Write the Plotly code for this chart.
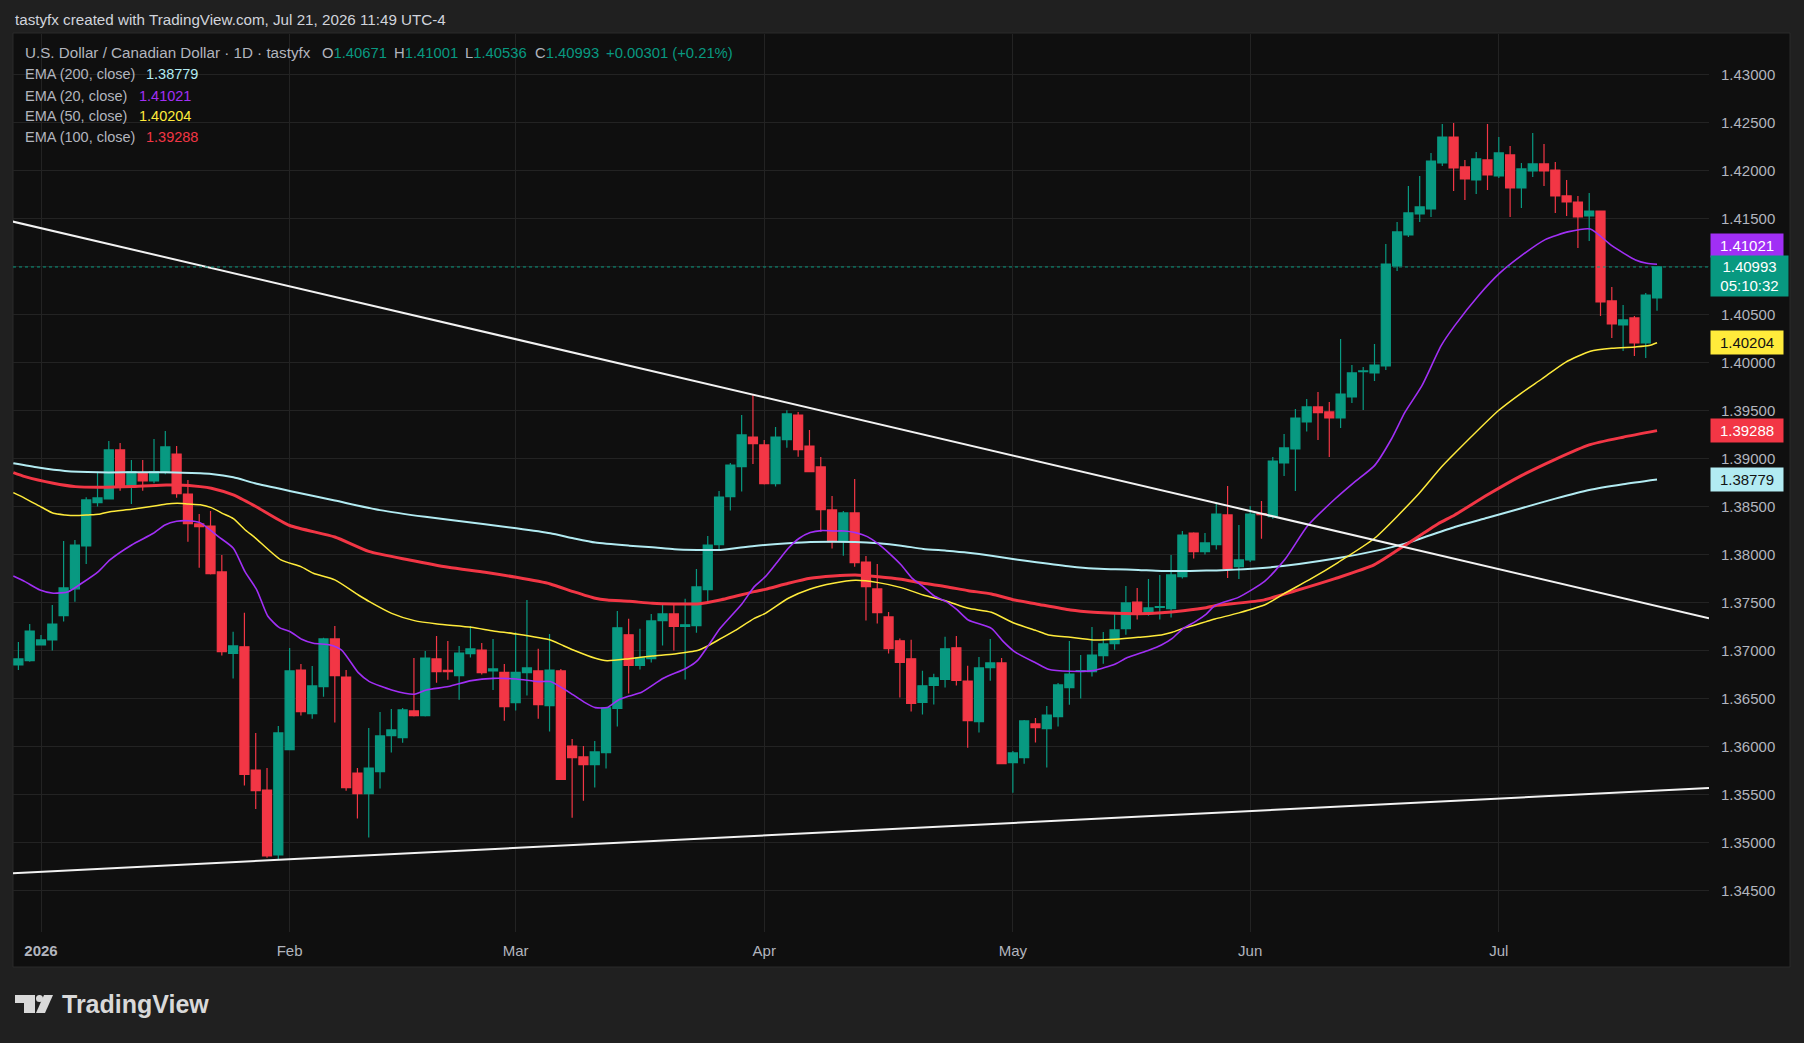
import plotly.graph_objects as go
import pandas as pd

# ---------------- data ----------------
dates = pd.bdate_range("2025-12-30", "2026-07-21")

open_ = [1.36847, 1.36892, 1.37056, 1.37108, 1.37361, 1.37640, 1.38087, 1.38538, 1.38576, 1.39087,
         1.38701, 1.38844, 1.38764, 1.38851, 1.39045, 1.38628, 1.38316, 1.38295, 1.37816, 1.36967,
         1.37036, 1.35753, 1.35545, 1.34868, 1.35965, 1.36795, 1.36340, 1.36622, 1.37118, 1.36722,
         1.35722, 1.35507, 1.35737, 1.36112, 1.36091, 1.36368, 1.36320, 1.36910, 1.36790, 1.36736,
         1.36965, 1.37003, 1.36785, 1.36771, 1.36455, 1.36767, 1.36785, 1.36424, 1.36785, 1.36003,
         1.35889, 1.35809, 1.35934, 1.36394, 1.37161, 1.36842, 1.36913, 1.37310, 1.37379, 1.37248,
         1.37257, 1.37632, 1.38100, 1.38601, 1.38913, 1.39222, 1.39139, 1.38736, 1.39195, 1.39451,
         1.39128, 1.38910, 1.38462, 1.38132, 1.38431, 1.37920, 1.37639, 1.37348, 1.37099, 1.36911,
         1.36457, 1.36634, 1.36696, 1.37026, 1.36679, 1.36257, 1.36820, 1.36868, 1.35830, 1.35882,
         1.36233, 1.36184, 1.36309, 1.36611, 1.36781, 1.36778, 1.36944, 1.37070, 1.37226, 1.37503,
         1.37382, 1.37448, 1.37434, 1.37767, 1.38222, 1.38028, 1.38101, 1.38410, 1.37872, 1.37941,
         1.38424, 1.38392, 1.38951, 1.39097, 1.39378, 1.39535, 1.39483, 1.39420, 1.39639, 1.39903,
         1.39889, 1.39962, 1.41003, 1.41326, 1.41545, 1.41597, 1.42076, 1.42347, 1.42035, 1.41900,
         1.42108, 1.41941, 1.42160, 1.41816, 1.41993, 1.42066, 1.42003, 1.41733, 1.41670, 1.41524,
         1.41576, 1.40639, 1.40389, 1.40462, 1.40201, 1.40671]
high = [1.37087, 1.37274, 1.37160, 1.37472, 1.38139, 1.38150, 1.38594, 1.38861, 1.39180, 1.39160,
        1.38983, 1.38983, 1.39201, 1.39285, 1.39128, 1.38774, 1.38420, 1.38451, 1.37993, 1.37192,
        1.37390, 1.36139, 1.35774, 1.36212, 1.37024, 1.36858, 1.36837, 1.37130, 1.37254, 1.36795,
        1.35774, 1.36191, 1.36358, 1.36389, 1.36400, 1.36920, 1.36993, 1.37150, 1.37097, 1.37045,
        1.37254, 1.37076, 1.37118, 1.36858, 1.37188, 1.37525, 1.37015, 1.37170, 1.36806, 1.36076,
        1.36003, 1.36056, 1.36410, 1.37410, 1.37328, 1.37224, 1.37379, 1.37494, 1.37473, 1.37536,
        1.37847, 1.38191, 1.38660, 1.38951, 1.39451, 1.39663, 1.39191, 1.39326, 1.39500, 1.39483,
        1.39295, 1.39014, 1.38608, 1.38451, 1.38785, 1.37983, 1.37899, 1.37399, 1.37123, 1.37109,
        1.36786, 1.36755, 1.37140, 1.37150, 1.36838, 1.36931, 1.37118, 1.36920, 1.35951, 1.36275,
        1.36295, 1.36420, 1.36660, 1.37097, 1.36951, 1.37243, 1.37191, 1.37379, 1.37670, 1.37649,
        1.37743, 1.37785, 1.37993, 1.38243, 1.38230, 1.38222, 1.38535, 1.38712, 1.38306, 1.38503,
        1.38556, 1.39014, 1.39253, 1.39514, 1.39618, 1.39691, 1.39587, 1.40243, 1.39972, 1.39951,
        1.40191, 1.41233, 1.41462, 1.41837, 1.41941, 1.42181, 1.42483, 1.42493, 1.42108, 1.42191,
        1.42483, 1.42347, 1.42253, 1.42076, 1.42389, 1.42274, 1.42087, 1.41900, 1.41733, 1.41764,
        1.41580, 1.40785, 1.40597, 1.40483, 1.40722, 1.41001]
low = [1.36795, 1.36882, 1.37050, 1.36997, 1.37299, 1.37507, 1.37900, 1.38497, 1.38570, 1.38663,
       1.38524, 1.38663, 1.38740, 1.38833, 1.38590, 1.38132, 1.37861, 1.37790, 1.36945, 1.36706,
       1.35592, 1.35347, 1.34840, 1.34820, 1.35960, 1.36320, 1.36288, 1.36517, 1.36247, 1.35538,
       1.35247, 1.35049, 1.35560, 1.35935, 1.36038, 1.36310, 1.36310, 1.36663, 1.36694, 1.36486,
       1.36924, 1.36747, 1.36587, 1.36267, 1.36372, 1.36528, 1.36288, 1.36155, 1.35650, 1.35257,
       1.35434, 1.35572, 1.35770, 1.36207, 1.36549, 1.36800, 1.36872, 1.37050, 1.36998, 1.36695,
       1.37184, 1.37507, 1.38049, 1.38455, 1.38653, 1.38941, 1.38726, 1.38705, 1.39111, 1.39017,
       1.38855, 1.38236, 1.38060, 1.37986, 1.37871, 1.37310, 1.37278, 1.36967, 1.36509, 1.36363,
       1.36332, 1.36436, 1.36613, 1.36634, 1.35986, 1.36143, 1.36684, 1.35815, 1.35517, 1.35819,
       1.36040, 1.35778, 1.36205, 1.36434, 1.36497, 1.36726, 1.36861, 1.37007, 1.37163, 1.37320,
       1.37361, 1.37320, 1.37341, 1.37747, 1.37955, 1.37997, 1.38049, 1.37753, 1.37743, 1.37920,
       1.38163, 1.38371, 1.38816, 1.38660, 1.39278, 1.39191, 1.39014, 1.39316, 1.39576, 1.39503,
       1.39806, 1.39920, 1.40951, 1.41306, 1.41462, 1.41514, 1.42045, 1.41785, 1.41691, 1.41754,
       1.41795, 1.41920, 1.41514, 1.41608, 1.41931, 1.41837, 1.41556, 1.41524, 1.41191, 1.41264,
       1.40483, 1.40253, 1.40118, 1.40066, 1.40045, 1.40536]
close = [1.36910, 1.37201, 1.37108, 1.37274, 1.37650, 1.38097, 1.38566, 1.38587, 1.39087, 1.38705,
         1.38861, 1.38764, 1.38861, 1.39118, 1.38632, 1.38320, 1.38288, 1.37799, 1.36987, 1.37046,
         1.35707, 1.35538, 1.34858, 1.36139, 1.36785, 1.36361, 1.36629, 1.37118, 1.36736, 1.35569,
         1.35507, 1.35774, 1.36108, 1.36171, 1.36379, 1.36320, 1.36920, 1.36778, 1.36778, 1.36972,
         1.37014, 1.36767, 1.36806, 1.36413, 1.36771, 1.36816, 1.36434, 1.36795, 1.35655, 1.35882,
         1.35809, 1.35941, 1.36401, 1.37234, 1.36842, 1.36921, 1.37306, 1.37379, 1.37248, 1.37265,
         1.37660, 1.38097, 1.38597, 1.38930, 1.39243, 1.39153, 1.38736, 1.39222, 1.39462, 1.39090,
         1.38861, 1.38465, 1.38132, 1.38431, 1.37913, 1.37663, 1.37392, 1.37018, 1.36873, 1.36446,
         1.36630, 1.36714, 1.37015, 1.36686, 1.36267, 1.36816, 1.36868, 1.35819, 1.35931, 1.36264,
         1.36195, 1.36326, 1.36639, 1.36753, 1.36788, 1.36951, 1.37066, 1.37212, 1.37493, 1.37389,
         1.37441, 1.37455, 1.37785, 1.38201, 1.38028, 1.38118, 1.38420, 1.37854, 1.37941, 1.38420,
         1.38413, 1.38972, 1.39108, 1.39420, 1.39535, 1.39476, 1.39420, 1.39670, 1.39889, 1.39910,
         1.39972, 1.41024, 1.41358, 1.41556, 1.41618, 1.42097, 1.42347, 1.42024, 1.41910, 1.42118,
         1.41952, 1.42181, 1.41816, 1.42014, 1.42066, 1.41993, 1.41733, 1.41670, 1.41514, 1.41576,
         1.40628, 1.40399, 1.40441, 1.40201, 1.40701, 1.40993]

# EMA values (bar position, value)
ema20_pos = [-0.45, 0.58, 1.91, 3.09, 4.42, 5.6, 7.07, 8.1, 10.02, 11.94, 12.97, 14.0, 15.0, 16.07, 17.7,
             19.02, 20.05, 21.1, 22.06, 23.1, 24.06, 25.07, 26.1, 27.58, 28.6, 30.08, 31.06, 33.03, 35.04,
             36.1, 38.05, 40.08, 42.03, 44.06, 46.0, 47.07, 49.1, 50.14, 51.05, 52.1, 53.1, 54.06, 55.15,
             57.07, 59.1, 60.08, 61.05, 62.1, 64.0, 65.12, 66.1, 66.95, 68.13, 69.1, 70.07, 71.08, 72.11,
             73.08, 74.06, 75.12, 76.09, 77.06, 78.12, 79.1, 80.07, 81.04, 82.1, 83.08, 84.05, 86.1, 87.16,
             88.14, 90.08, 91.14, 93.09, 95.12, 97.07, 98.13, 100.08, 101.14, 102.11, 103.08, 104.14,
             105.11, 105.88, 108.0, 110.3, 112.1, 114.1, 116.5, 118.2, 120.0, 121.5, 122.7, 124.2, 125.9,
             127.1, 129.2, 131.1, 133.0, 135.1, 137.2, 139.1, 141.0, 143.1, 144.1, 145.0]
ema20_val = [1.37774, 1.37715, 1.37628, 1.37594, 1.37611, 1.37698, 1.37820, 1.37941, 1.38097, 1.38219,
             1.38306, 1.38344, 1.38350, 1.38330, 1.38184, 1.38063, 1.37819, 1.37628, 1.37358, 1.37236,
             1.37194, 1.37115, 1.37073, 1.37056, 1.37003, 1.36767, 1.36674, 1.36587, 1.36542, 1.36587,
             1.36622, 1.36684, 1.36708, 1.36701, 1.36674, 1.36674, 1.36535, 1.36455, 1.36403, 1.36403,
             1.36483, 1.36524, 1.36563, 1.36708, 1.36813, 1.36892, 1.37049, 1.37229, 1.37480, 1.37663,
             1.37767, 1.37889, 1.38063, 1.38167, 1.38226, 1.38247, 1.38243, 1.38243, 1.38226, 1.38184,
             1.38108, 1.38010, 1.37889, 1.37750, 1.37663, 1.37566, 1.37507, 1.37420, 1.37316, 1.37229,
             1.37090, 1.36986, 1.36865, 1.36802, 1.36781, 1.36788, 1.36858, 1.36924, 1.37003, 1.37056,
             1.37125, 1.37229, 1.37299, 1.37378, 1.37465, 1.37554, 1.37720, 1.37950, 1.38299, 1.38576,
             1.38750, 1.38924, 1.39201, 1.39480, 1.39757, 1.40174, 1.40382, 1.40694, 1.40931, 1.41111,
             1.41278, 1.41361, 1.41389, 1.41215, 1.41066, 1.41031, 1.41021]

ema50_pos = [-0.45, 0.58, 2.06, 3.09, 4.12, 5.04, 6.19, 7.07, 8.1, 10.02, 12.03, 13.09, 14.06, 15.04, 16.1,
             17.07, 18.04, 19.02, 20.08, 20.93, 23.23, 25.0, 26.1, 28.0, 30.08, 31.06, 33.03, 35.04, 37.07,
             40.08, 42.03, 44.06, 47.07, 48.07, 49.1, 51.05, 52.1, 54.06, 56.1, 58.04, 60.08, 61.05, 62.1,
             63.4, 65.12, 66.1, 68.13, 70.07, 72.11, 74.06, 76.09, 78.12, 80.07, 82.1, 84.05, 86.1, 88.14,
             90.08, 91.14, 93.09, 95.12, 97.07, 99.1, 101.14, 102.11, 103.08, 104.14, 105.11, 105.88, 108.0,
             110.4, 112.0, 114.4, 116.8, 120.0, 123.9, 125.9, 127.1, 131.0, 133.0, 134.8, 136.9, 139.1,
             141.0, 143.1, 144.3, 145.0]
ema50_val = [1.38642, 1.38583, 1.38490, 1.38427, 1.38410, 1.38403, 1.38410, 1.38417, 1.38444, 1.38469,
             1.38503, 1.38524, 1.38531, 1.38524, 1.38517, 1.38486, 1.38427, 1.38372, 1.38253, 1.38174,
             1.37941, 1.37872, 1.37802, 1.37733, 1.37576, 1.37507, 1.37385, 1.37309, 1.37274, 1.37240,
             1.37201, 1.37170, 1.37108, 1.37056, 1.37003, 1.36917, 1.36892, 1.36913, 1.36941, 1.36962,
             1.36997, 1.37049, 1.37118, 1.37205, 1.37333, 1.37385, 1.37542, 1.37639, 1.37698, 1.37729,
             1.37705, 1.37653, 1.37576, 1.37514, 1.37437, 1.37396, 1.37281, 1.37205, 1.37160, 1.37135,
             1.37108, 1.37115, 1.37135, 1.37160, 1.37188, 1.37229, 1.37264, 1.37299, 1.37326, 1.37390,
             1.37480, 1.37590, 1.37746, 1.37917, 1.38167, 1.38628, 1.38906, 1.39052, 1.39500, 1.39680,
             1.39826, 1.40000, 1.40115, 1.40146, 1.40160, 1.40174, 1.40204]

ema100_pos = [-0.45, 0.58, 3.09, 5.04, 7.07, 10.08, 13.09, 14.06, 16.1, 17.07, 19.02, 20.93, 24.0, 28.0,
              31.0, 34.6, 38.05, 41.29, 44.06, 47.07, 49.1, 51.05, 52.1, 54.06, 56.1, 58.04, 60.08, 62.1,
              65.12, 66.1, 68.13, 70.07, 72.11, 74.06, 76.09, 78.12, 80.07, 82.1, 84.05, 86.1, 88.14, 90.08,
              93.09, 95.12, 97.07, 99.1, 101.14, 103.08, 105.11, 105.88, 110.0, 113.0, 116.5, 120.0, 122.7,
              125.6, 127.1, 130.0, 133.0, 136.0, 139.0, 142.0, 145.0]
ema100_val = [1.38851, 1.38809, 1.38740, 1.38705, 1.38698, 1.38705, 1.38722, 1.38722, 1.38705, 1.38688,
              1.38618, 1.38503, 1.38300, 1.38180, 1.38030, 1.37941, 1.37865, 1.37813, 1.37760, 1.37691,
              1.37611, 1.37542, 1.37524, 1.37510, 1.37490, 1.37483, 1.37483, 1.37524, 1.37611, 1.37635,
              1.37698, 1.37750, 1.37774, 1.37785, 1.37767, 1.37740, 1.37698, 1.37663, 1.37621, 1.37587,
              1.37524, 1.37483, 1.37420, 1.37396, 1.37385, 1.37382, 1.37392, 1.37413, 1.37444, 1.37465,
              1.37520, 1.37620, 1.37746, 1.37892, 1.38094, 1.38316, 1.38410, 1.38620, 1.38820, 1.38990,
              1.39140, 1.39220, 1.39288]

ema200_pos = [-0.45, 1.76, 4.12, 7.07, 10.08, 13.09, 16.1, 17.07, 19.02, 20.93, 24.0, 28.0, 32.0, 36.0,
              41.29, 44.06, 47.07, 49.1, 51.05, 54.06, 56.1, 58.04, 60.08, 62.1, 65.12, 68.13, 70.07, 74.06,
              76.09, 78.12, 80.07, 82.1, 84.05, 86.1, 88.14, 90.08, 93.09, 95.12, 97.07, 99.1, 101.14,
              105.11, 111.0, 116.8, 120.3, 122.7, 127.1, 130.0, 133.0, 136.0, 139.0, 142.0, 145.0]
ema200_val = [1.38948, 1.38903, 1.38868, 1.38854, 1.38854, 1.38854, 1.38844, 1.38837, 1.38802, 1.38740,
              1.38660, 1.38560, 1.38460, 1.38390, 1.38313, 1.38271, 1.38219, 1.38167, 1.38122, 1.38090,
              1.38073, 1.38052, 1.38045, 1.38045, 1.38087, 1.38115, 1.38128, 1.38128, 1.38115, 1.38090,
              1.38056, 1.38038, 1.38017, 1.37986, 1.37948, 1.37917, 1.37872, 1.37851, 1.37844, 1.37837,
              1.37826, 1.37830, 1.37867, 1.37961, 1.38041, 1.38111, 1.38284, 1.38380, 1.38480, 1.38580,
              1.38670, 1.38730, 1.38779]

# trend lines (anchor bar position, price)
upper_trend_pos = [-0.6, 149.6]
upper_trend_val = [1.41469, 1.37333]
lower_trend_pos = [-0.6, 149.6]
lower_trend_val = [1.34678, 1.35565]

last_values = {"ema200": 1.38779, "ema20": 1.41021, "ema50": 1.40204, "ema100": 1.39288}
ohlc_last = {"O": "1.40671", "H": "1.41001", "L": "1.40536", "C": "1.40993"}
change_text = "+0.00301 (+0.21%)"
countdown = "05:10:32"

# ---------------- style ----------------
GREEN = "#089981"
RED = "#F23645"
C200 = "#B2EBF2"
C20 = "#A12FF5"
C50 = "#FFEB3B"
C100 = "#F23645"
PAGE_BG = "#202020"
PANE_BG = "#0F0F0F"
GRID = "#232323"
TXT = "#B2B5BE"
TXT2 = "#D1D4DC"
FONT = "Liberation Sans, Arial, sans-serif"

W, H = 1804, 1043
L, R, T, B = 13, 1709, 34, 932


def px(X):
    return (X - L) / (R - L)


def py(Y):
    return (B - Y) / (B - T)


def price_at(Y):
    return 1.43 - (Y - 74.3) / 9600.0


x = list(range(len(dates)))

fig = go.Figure()
fig.add_trace(go.Candlestick(
    x=x, open=open_, high=high, low=low, close=close,
    increasing=dict(line=dict(color=GREEN, width=1.2), fillcolor=GREEN),
    decreasing=dict(line=dict(color=RED, width=1.2), fillcolor=RED),
    whiskerwidth=0, hoverinfo="skip", showlegend=False))

for pos, val, col, wdt in [(ema200_pos, ema200_val, C200, 2),
                           (ema100_pos, ema100_val, C100, 3),
                           (ema50_pos, ema50_val, C50, 1.5),
                           (ema20_pos, ema20_val, C20, 1.6)]:
    fig.add_trace(go.Scatter(x=pos, y=val, mode="lines",
                             line=dict(color=col, width=wdt, shape="spline", smoothing=0.6),
                             hoverinfo="skip", showlegend=False))

for pos, val in [(upper_trend_pos, upper_trend_val), (lower_trend_pos, lower_trend_val)]:
    fig.add_trace(go.Scatter(x=pos, y=val, mode="lines",
                             line=dict(color="#F2F2F2", width=2),
                             hoverinfo="skip", showlegend=False))

# month ticks
tickvals, ticktext = [], []
prev_m = None
for i, d in enumerate(dates):
    if d.month != prev_m and prev_m is not None:
        tickvals.append(i)
        ticktext.append("<b>2026</b>" if d.month == 1 else d.strftime("%b"))
    prev_m = d.month

shapes = [
    # chart panel background
    dict(type="rect", xref="paper", yref="paper", x0=px(13), x1=px(1790), y0=py(967), y1=py(33),
         fillcolor=PANE_BG, line=dict(color="#2A2A2A", width=1), layer="below"),
    # current price dotted line
    dict(type="line", xref="paper", yref="y", x0=0, x1=1, y0=float(close[-1]), y1=float(close[-1]),
         line=dict(color=GREEN, width=1, dash="dot")),
    # TradingView logo
    dict(type="path", xref="paper", yref="paper",
         path="M {a},{b} L {c},{b} L {c},{d} L {e},{d} L {e},{f} L {a},{f} Z".format(
             a=px(15), b=py(995), c=px(35), d=py(1013), e=px(24), f=py(1003)),
         fillcolor="#D9D9D9", line=dict(width=0)),
    dict(type="circle", xref="paper", yref="paper", x0=px(36), x1=px(43), y0=py(1002), y1=py(995),
         fillcolor="#D9D9D9", line=dict(width=0)),
    dict(type="path", xref="paper", yref="paper",
         path="M {a},{b} L {c},{b} L {d},{e} L {f},{e} Z".format(
             a=px(44), b=py(995), c=px(53), d=px(45), e=py(1013), f=px(36)),
         fillcolor="#D9D9D9", line=dict(width=0)),
]

ann = []


def add_text(X, Y, text, size=14.5, color=TXT, **kw):
    ann.append(dict(x=px(X), y=py(Y), xref="paper", yref="paper", text=text, showarrow=False,
                    xanchor=kw.get("xanchor", "left"), yanchor="middle",
                    font=dict(family=FONT, size=size, color=color)))


add_text(13, 19, "tastyfx created with TradingView.com, Jul 21, 2026 11:49 UTC-4", 15.2, TXT2)
add_text(23, 53, "U.S. Dollar / Canadian Dollar · 1D · tastyfx", 15.2, TXT)
for X, k in [(320, "O"), (392, "H"), (463, "L"), (533, "C")]:
    add_text(X, 53, k + "<span style='color:%s'>%s</span>" % (GREEN, ohlc_last[k]), 14.8, TXT)
add_text(604, 53, change_text, 14.8, GREEN)

ema_rows = [(73.6, "EMA (200, close)", "ema200", C200, 144),
            (95.5, "EMA (20, close)", "ema20", C20, 137),
            (116.2, "EMA (50, close)", "ema50", C50, 137),
            (137.0, "EMA (100, close)", "ema100", C100, 144)]
for Y, lab, key, col, vx in ema_rows:
    add_text(23, Y, lab, 14.5, TXT)
    add_text(vx, Y, "%.5f" % last_values[key], 14.5, col)

add_text(60, 1004, "<b>TradingView</b>", 25, "#D9D9D9")


def price_box(val, bg, fg, yshift=0, text=None, w=70, h=21):
    ann.append(dict(x=1, xref="paper", y=val, yref="y", xanchor="left", yanchor="middle",
                    xshift=1, yshift=yshift, text=text or ("%.5f" % val), showarrow=False,
                    bgcolor=bg, width=w, height=h, align="center",
                    font=dict(family=FONT, size=15, color=fg)))


price_box(last_values["ema20"], C20, "#FFFFFF", yshift=18.3)
price_box(close[-1], GREEN, "#FFFFFF", yshift=-9.4, text="%.5f<br>%s" % (close[-1], countdown), w=75, h=38)
price_box(last_values["ema50"], C50, "#131313")
price_box(last_values["ema100"], C100, "#FFFFFF")
price_box(last_values["ema200"], C200, "#131313")

fig.update_layout(
    width=W, height=H,
    margin=dict(l=L, r=W - R, t=T, b=H - B, pad=0),
    paper_bgcolor=PAGE_BG, plot_bgcolor=PANE_BG,
    showlegend=False, boxgap=0.2, boxgroupgap=0,
    font=dict(family=FONT, color=TXT),
    xaxis=dict(range=[-0.478, 149.6], rangeslider=dict(visible=False), showgrid=True,
               gridcolor=GRID, gridwidth=1, zeroline=False, showline=False, ticks="",
               tickvals=tickvals, ticktext=ticktext, ticklabelstandoff=8,
               tickfont=dict(family=FONT, size=15, color=TXT)),
    yaxis=dict(side="right", range=[price_at(B), price_at(T)], tick0=1.345, dtick=0.005,
               tickformat=".5f", showgrid=True, gridcolor=GRID, gridwidth=1, zeroline=False,
               showline=False, ticks="", ticklabelstandoff=11,
               tickfont=dict(family=FONT, size=15, color=TXT)),
    shapes=shapes, annotations=ann,
)

fig.write_html("out.html", config={"displayModeBar": False})
